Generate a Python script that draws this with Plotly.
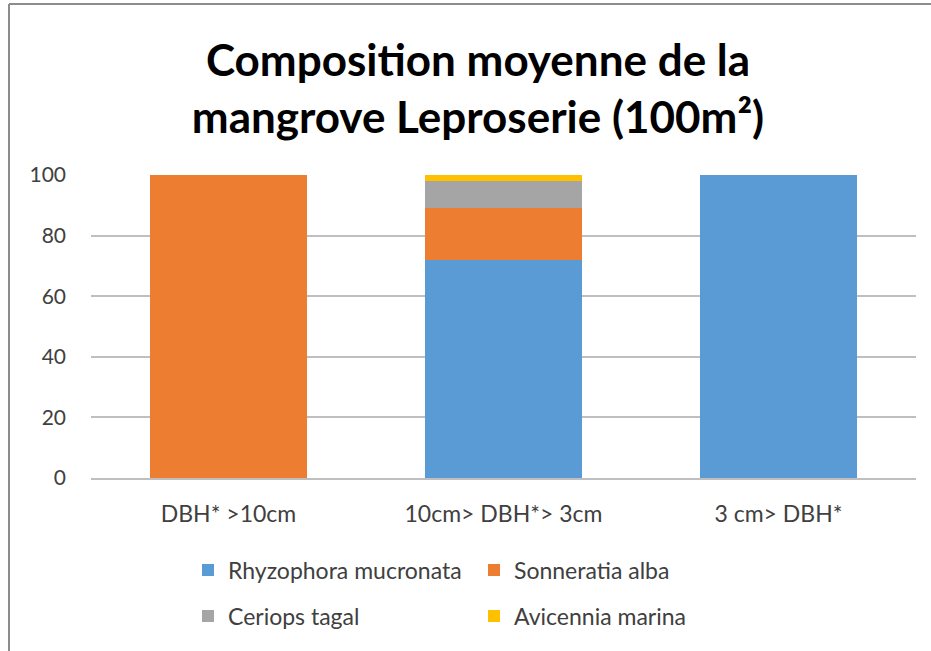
import plotly.graph_objects as go

categories = ["DBH* >10cm", "10cm> DBH*> 3cm", "3 cm> DBH*"]
rhyzophora = [0, 72, 100]
sonneratia = [100, 17, 0]
ceriops = [0, 9, 0]
avicennia = [0, 2, 0]
y_ticks = [0, 20, 40, 60, 80, 100]

FONT = "Lato"
fig = go.Figure()
series = [
    ("Rhyzophora mucronata", rhyzophora, "#5B9BD5", "legend"),
    ("Sonneratia alba", sonneratia, "#ED7D31", "legend"),
    ("Ceriops tagal", ceriops, "#A5A5A5", "legend2"),
    ("Avicennia marina", avicennia, "#FFC000", "legend2"),
]
for name, vals, col, lg in series:
    fig.add_trace(go.Bar(x=categories, y=vals, name=name, marker_color=col,
                         marker_line_width=0, legend=lg))

W, H = 931, 651
L, R, T, B = 91, 15, 175, 173
pw = W - L - R
ph = H - T - B

def px_x(p):
    return (p - L) / pw

def px_y(p):
    return (H - B - p) / ph

legend_common = dict(orientation="h", traceorder="normal", entrywidth=241,
                     entrywidthmode="pixels", xanchor="left", yanchor="middle",
                     font=dict(family=FONT, size=23, color="#404040"),
                     bgcolor="rgba(0,0,0,0)")

fig.update_layout(
    width=W, height=H,
    margin=dict(l=L, r=R, t=T, b=B),
    paper_bgcolor="white", plot_bgcolor="white",
    barmode="stack", bargap=0.43,
    title=dict(text="<b>Composition moyenne de la<br>mangrove Leproserie (100m²)</b>",
               x=478 / W, xanchor="center", xref="container", y=1 - 76 / H, yanchor="middle",
               font=dict(family=FONT, size=44, color="black")),
    legend=dict(x=px_x(188), y=px_y(570), **legend_common),
    legend2=dict(x=px_x(188), y=px_y(616), **legend_common),
    xaxis=dict(showgrid=False, showline=True, linecolor="#BFBFBF", linewidth=1.5,
               tickfont=dict(family=FONT, size=23, color="#404040"), ticks="",
               ticklabelstandoff=15),
    yaxis=dict(range=[0, 100], tickvals=y_ticks, showgrid=True, gridcolor="#BFBFBF",
               gridwidth=1.5, zeroline=False, showline=False,
               tickfont=dict(family=FONT, size=21, color="#404040"), ticks="",
               ticklabelstandoff=24),
    shapes=[
        dict(type="line", xref="paper", yref="paper", x0=px_x(9), x1=px_x(931),
             y0=px_y(4), y1=px_y(4), line=dict(color="#8C8C8C", width=2)),
        dict(type="line", xref="paper", yref="paper", x0=px_x(9), x1=px_x(9),
             y0=px_y(4), y1=px_y(651), line=dict(color="#8C8C8C", width=2)),
    ],
)

fig.write_html("out.html", config={"displayModeBar": False},
               post_script="document.body.style.margin='0';")
